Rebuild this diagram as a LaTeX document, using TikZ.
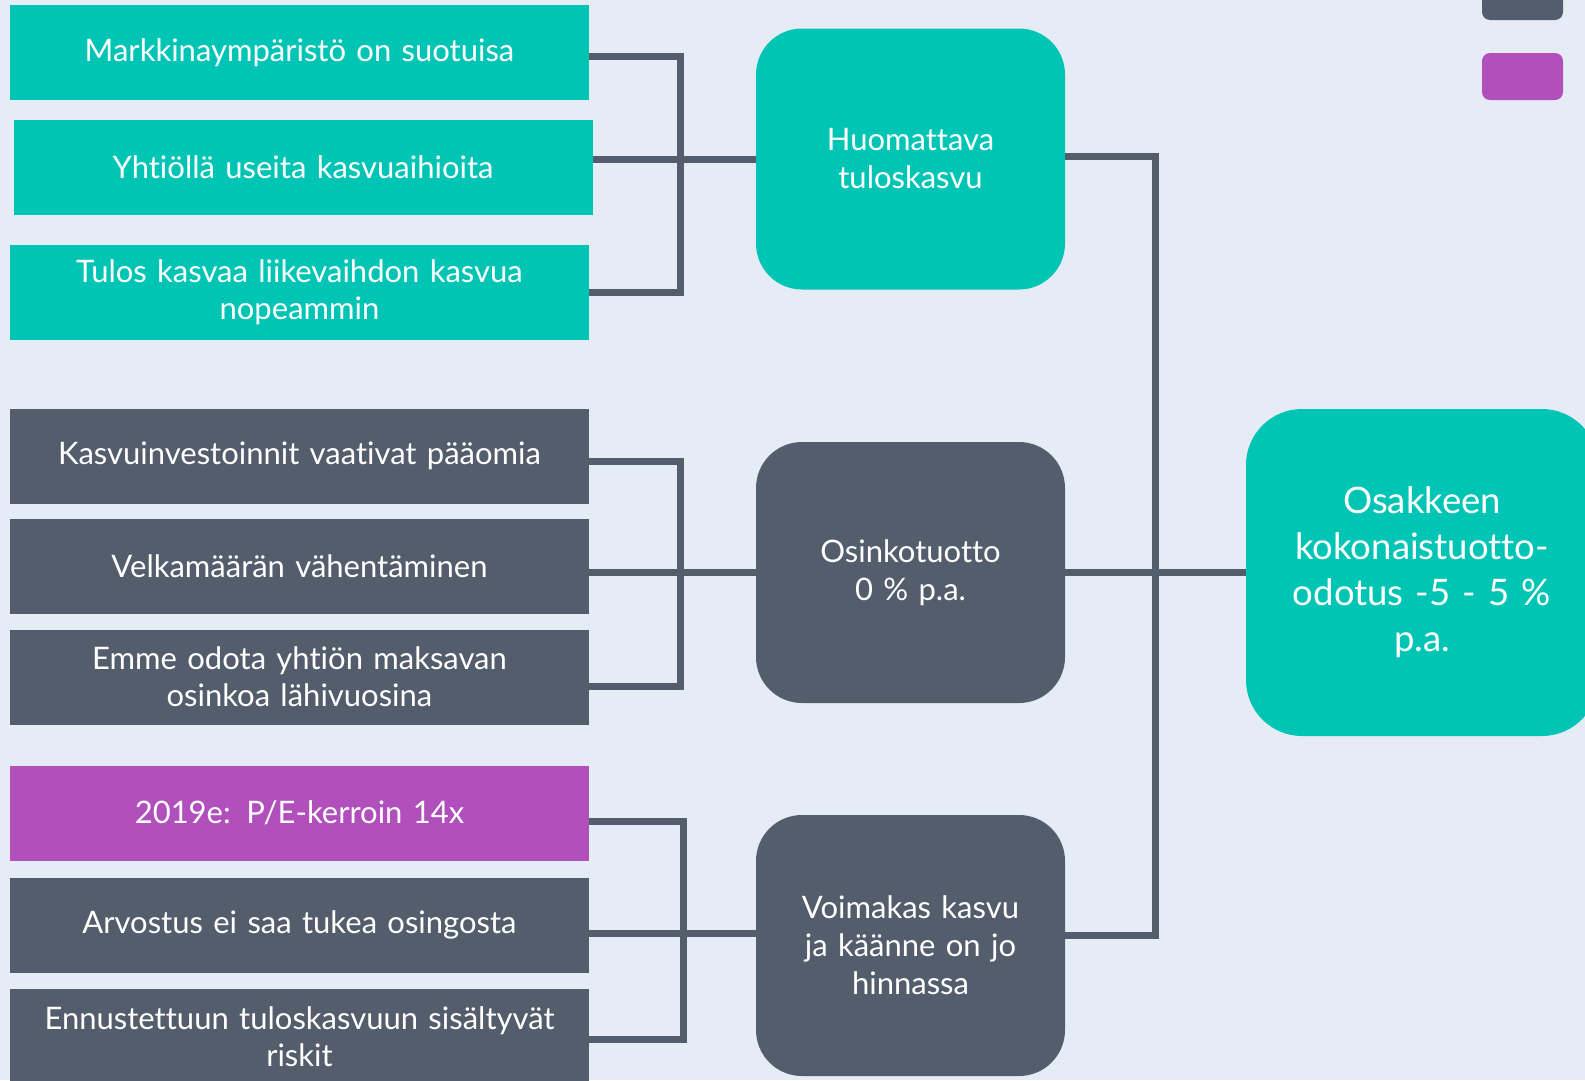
\documentclass[tikz,border=0pt]{standalone}
\usepackage{fontspec}
\setmainfont{Lato}[Ligatures=NoCommon]
\definecolor{teal1}{HTML}{00C5B5}
\definecolor{slate}{HTML}{535D6C}
\definecolor{orchid}{HTML}{B14FBC}
\definecolor{bg}{HTML}{E5ECF6}
\tikzset{
  fact/.style={rectangle,minimum width=579pt,minimum height=95pt,inner sep=0pt,
    text width=570pt,align=center,text=white,font=\fontsize{31}{37}\selectfont},
  driver/.style={rectangle,rounded corners=46pt,minimum width=309pt,minimum height=261pt,
    inner sep=0pt,text width=300pt,align=center,text=white,font=\fontsize{31}{38}\selectfont},
  total/.style={rectangle,rounded corners=56pt,minimum width=352pt,minimum height=327pt,
    inner sep=0pt,text width=345pt,align=center,text=white,font=\fontsize{36.5}{46}\selectfont},
  link/.style={draw=slate,line width=7pt}
}
\begin{document}
\begin{tikzpicture}[x=1pt,y=-1pt]
\useasboundingbox (0,0) rectangle (1585,1080);
\clip (0,0) rectangle (1585,1080);
\fill[bg] (0,0) rectangle (1585,1080);
% legend swatches
\fill[slate,rounded corners=8pt] (1482,-30) rectangle (1563,20);
\fill[orchid,rounded corners=8pt] (1482,53) rectangle (1563,100);
% left column
\node[fact,fill=teal1] (b1) at (299.5,52.5) {Markkinaympäristö on suotuisa};
\node[fact,fill=teal1] (b2) at (303,167.5) {Yhtiöllä useita kasvuaihioita};
\node[fact,fill=teal1] (b3) at (299.5,292) {Tulos kasvaa liikevaihdon kasvua\\nopeammin};
\node[fact,fill=slate] (b4) at (299.5,456) {Kasvuinvestoinnit vaativat pääomia};
\node[fact,fill=slate] (b5) at (299.5,566) {Velkamäärän vähentäminen};
\node[fact,fill=slate] (b6) at (299.5,677) {Emme odota yhtiön maksavan\\osinkoa lähivuosina};
\node[fact,fill=orchid] (b7) at (299.5,813) {2019e: P/E-kerroin 14x};
\node[fact,fill=slate] (b8) at (299.5,925) {Arvostus ei saa tukea osingosta};
\node[fact,fill=slate] (b9) at (299.5,1036.5) {Ennustettuun tuloskasvuun sisältyvät\\riskit};
% middle column
\node[driver,fill=teal1] (m1) at (910.5,159) {Huomattava\\tuloskasvu};
\node[driver,fill=slate] (m2) at (910.5,572.5) {Osinkotuotto\\0 \% p.a.};
\node[driver,fill=slate] (m3) at (910.5,945.5) {Voimakas kasvu\\ja käänne on jo\\hinnassa};
% result
\node[total,fill=teal1] (r) at (1422,572.5) {Osakkeen\\kokonaistuotto-\\odotus -5 - 5 \%\\p.a.};
% junctions
\coordinate (j1) at (680,0);
\coordinate (j2) at (680,0);
\coordinate (j3) at (683,0);
\coordinate (j4) at (1155,0);
% connectors
\draw[link] ([yshift=-3.5pt]b1.east) -| (j1 |- b3.east) -- (b3.east);
\draw[link] (m1.west) -- (m1.west -| b2.east);
\draw[link] ([yshift=-5pt]b4.east) -| ([yshift=-9pt]j2 |- b6.east) -- ([yshift=-9pt]b6.east);
\draw[link] (m2.west) -- (m2.west -| b5.east);
\draw[link] ([yshift=-8pt]b7.east) -| ([yshift=-2.5pt]j3 |- b9.east) -- ([yshift=-2.5pt]b9.east);
\draw[link] ([yshift=-8pt]b8.east) -- ([yshift=-8pt]b8.east -| m3.west);
\draw[link] ([yshift=3pt]m1.east) -| ([yshift=10pt]j4 |- m3.east) -- ([yshift=10pt]m3.east);
\draw[link] (m2.east) -- (r.west);
\end{tikzpicture}
\end{document}
